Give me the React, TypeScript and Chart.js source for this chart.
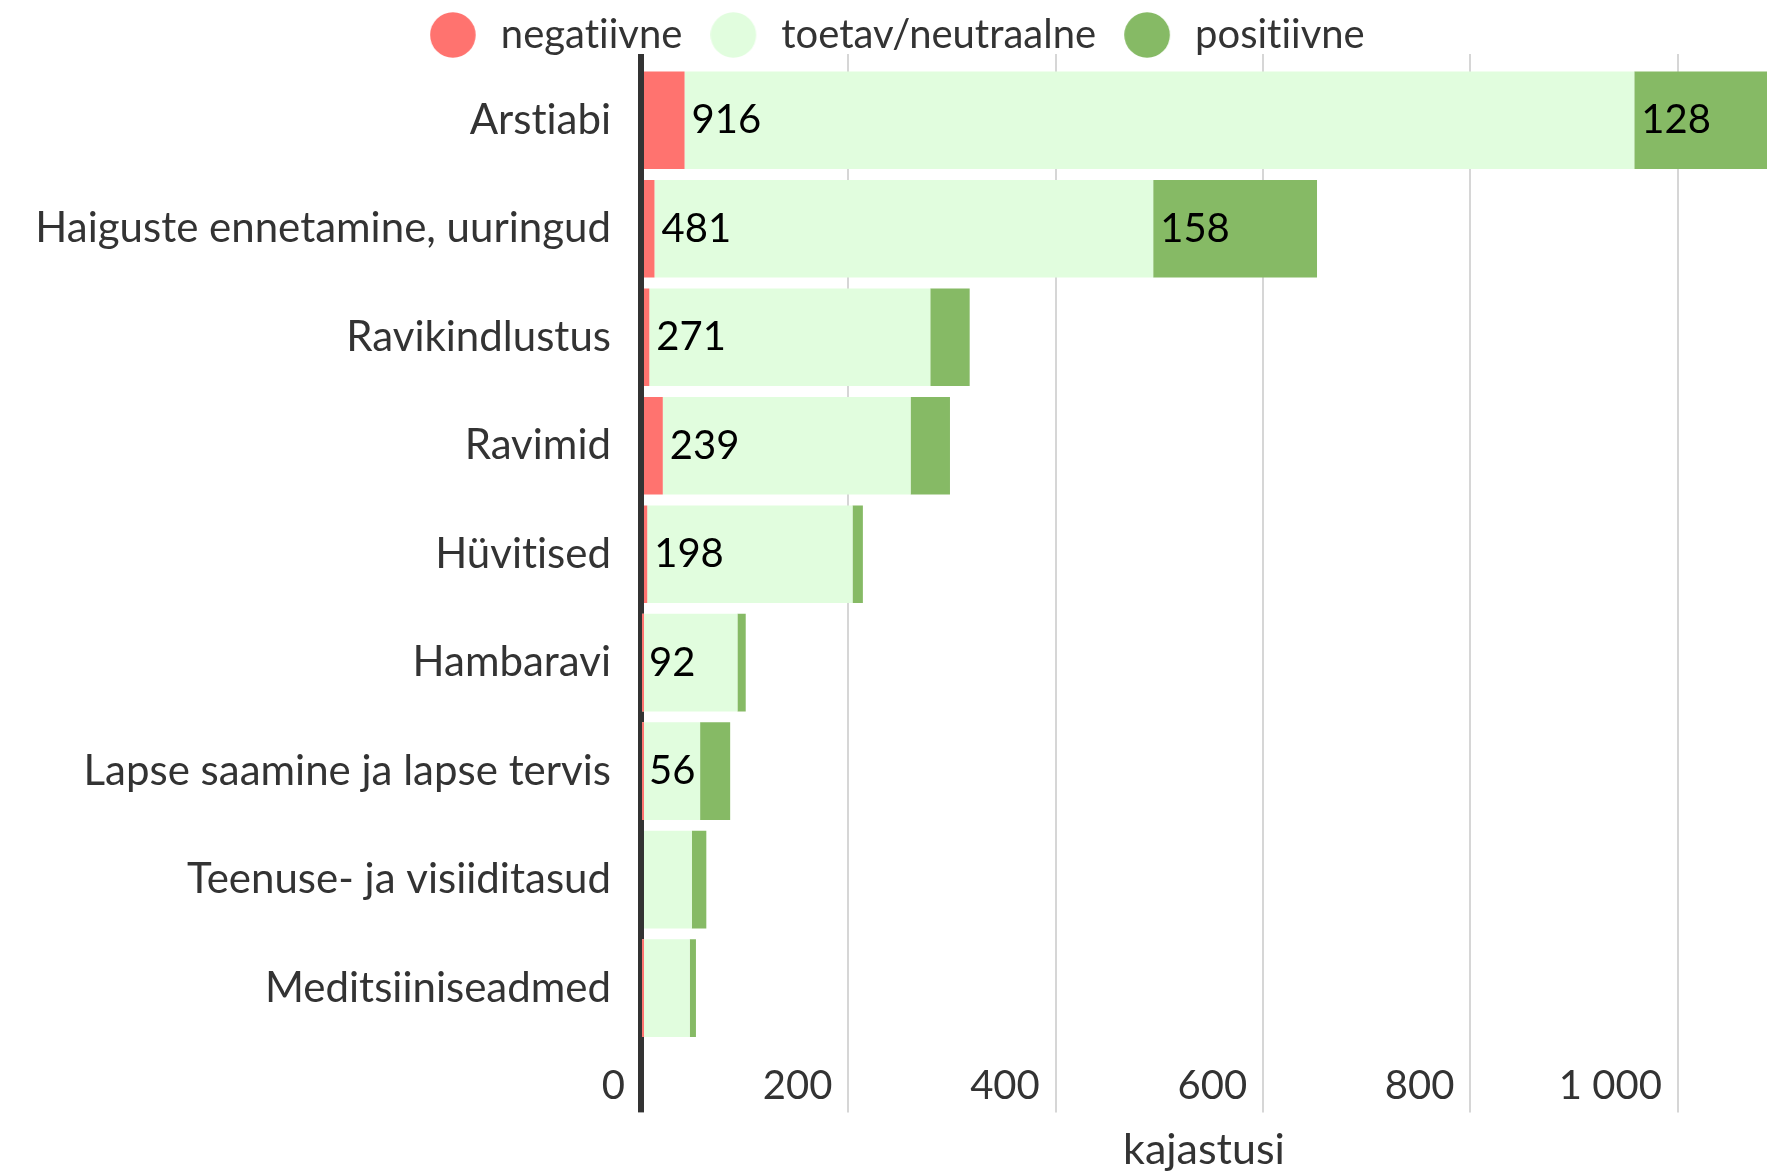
import React, { useEffect, useRef } from 'react';
import { Chart, registerables } from 'chart.js';

Chart.register(...registerables);

const categories = [
  'Arstiabi',
  'Haiguste ennetamine, uuringud',
  'Ravikindlustus',
  'Ravimid',
  'Hüvitised',
  'Hambaravi',
  'Lapse saamine ja lapse tervis',
  'Teenuse- ja visiiditasud',
  'Meditsiiniseadmed',
];
const negatiivne = [42, 13, 8, 21, 6, 1, 1, 0, 1];
const toetav = [916, 481, 271, 239, 198, 92, 56, 49, 46];
const positiivne = [128, 158, 38, 38, 10, 8, 29, 14, 6];
const seriesNames = ['negatiivne', 'toetav/neutraalne', 'positiivne'];
const seriesColors = ['#FF736F', '#E1FDDE', '#86BA65'];
const tickStep = 200;
const axisTitle = 'kajastusi';
const labelMin = 55;

const FONT = 'Lato';
const FS = 40;
const CAT_FS = 42;
const TITLE_FS = 43;
const W = 1785;
const H = 1176;

function fmt(v: number) {
  return String(v).replace(/\B(?=(\d{3})+(?!\d))/g, ' ');
}

function makeDot(color: string) {
  const c = document.createElement('canvas');
  c.width = 51;
  c.height = 46;
  const g = c.getContext('2d')!;
  g.fillStyle = color;
  g.beginPath();
  g.arc(23, 23, 22.8, 0, Math.PI * 2);
  g.fill();
  return c;
}

const noLigPlugin = {
  id: 'noLig',
  beforeDraw(chart: any) {
    try {
      chart.ctx.textRendering = 'optimizeSpeed';
    } catch (e) {}
  },
};

const labelPlugin = {
  id: 'segLabels',
  afterDatasetsDraw(chart: any) {
    const ctx = chart.ctx;
    ctx.save();
    ctx.font = `${FS}px ${FONT}`;
    ctx.fillStyle = '#000000';
    ctx.textBaseline = 'middle';
    ctx.textAlign = 'left';
    [1, 2].forEach((di) => {
      const meta = chart.getDatasetMeta(di);
      const data = chart.data.datasets[di].data as number[];
      meta.data.forEach((el: any, i: number) => {
        const v = data[i];
        if (v < labelMin) return;
        const p = el.getProps(['x', 'y', 'base'], true);
        ctx.fillText(String(v), Math.min(p.x, p.base) + 7, p.y);
      });
    });
    ctx.restore();
  },
};

export default function App() {
  const ref = useRef<HTMLCanvasElement>(null);
  useEffect(() => {
    document.body.style.margin = '0';
    document.body.style.overflow = 'hidden';
    const totals = categories.map((_, i) => negatiivne[i] + toetav[i] + positiivne[i]);
    const xMax = Math.max(...totals);
    const dots = seriesColors.map(makeDot);
    const gridColor = (c: any) => (c.tick && c.tick.value === 0 ? '#333333' : '#D6D6D6');
    const gridWidth = (c: any) => (c.tick && c.tick.value === 0 ? 6 : 2);

    const chart = new Chart(ref.current!, {
      type: 'bar',
      data: {
        labels: categories,
        datasets: [negatiivne, toetav, positiivne].map((d, i) => ({
          label: seriesNames[i],
          data: d,
          backgroundColor: seriesColors[i],
          borderWidth: 0,
          categoryPercentage: 1,
          barPercentage: 0.9,
        })),
      },
      options: {
        indexAxis: 'y',
        responsive: true,
        maintainAspectRatio: false,
        animation: false,
        events: [],
        font: { family: FONT, size: FS },
        layout: { padding: { top: -13, right: 18, bottom: 0, left: 29 } },
        plugins: {
          tooltip: { enabled: false },
          legend: {
            display: true,
            position: 'top',
            labels: {
              usePointStyle: true,
              pointStyleWidth: 51,
              boxHeight: FS,
              padding: 28,
              color: '#333333',
              font: { family: FONT, size: FS },
              generateLabels: () =>
                seriesNames.map((n, i) => ({
                  text: n,
                  fillStyle: seriesColors[i],
                  strokeStyle: seriesColors[i],
                  lineWidth: 0,
                  pointStyle: dots[i],
                  hidden: false,
                  datasetIndex: i,
                  fontColor: '#333333',
                })),
            },
          },
        },
        scales: {
          x: {
            type: 'linear',
            position: 'bottom',
            stacked: true,
            min: 0,
            max: xMax,
            border: { display: false },
            grid: {
              color: gridColor,
              lineWidth: gridWidth,
              drawTicks: true,
              tickLength: 70,
            },
            ticks: {
              stepSize: tickStep,
              includeBounds: false,
              align: 'end',
              labelOffset: -16,
              padding: -50,
              color: '#333333',
              font: { family: FONT, size: FS },
              callback: (v: any) => fmt(Number(v)),
            },
            title: {
              display: true,
              text: axisTitle,
              color: '#333333',
              font: { family: FONT, size: TITLE_FS },
              padding: { top: 64, bottom: 0 },
            },
          },
          x2: {
            type: 'linear',
            position: 'top',
            min: 0,
            max: xMax,
            border: { display: false },
            grid: {
              color: gridColor,
              lineWidth: gridWidth,
              drawOnChartArea: false,
              drawTicks: true,
              tickLength: 12,
            },
            ticks: { display: false, stepSize: tickStep, includeBounds: false },
            afterFit: (s: any) => {
              s.height = 1;
            },
          },
          y: {
            type: 'category',
            stacked: true,
            border: { display: false },
            grid: { display: false, drawTicks: false },
            ticks: {
              padding: 30,
              color: '#333333',
              font: { family: FONT, size: CAT_FS },
            },
            afterFit: (s: any) => {
              s.width = 612;
            },
          },
        },
      } as any,
      plugins: [noLigPlugin, labelPlugin],
    });
    return () => chart.destroy();
  }, []);
  return (
    <div style={{ width: W, height: H, position: 'relative' }}>
      <canvas ref={ref} />
    </div>
  );
}
